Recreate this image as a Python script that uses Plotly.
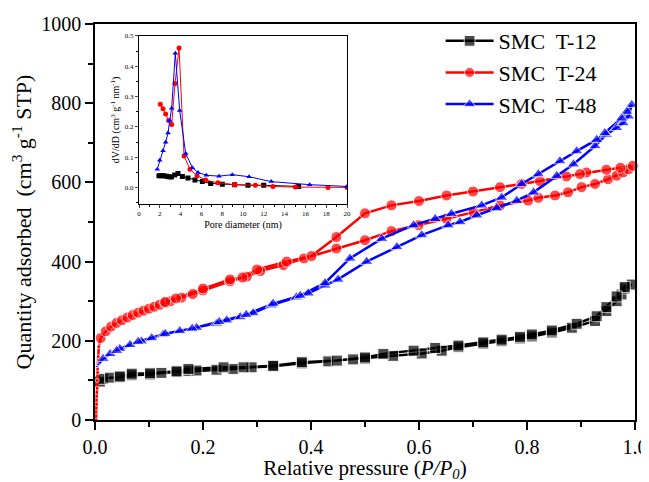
import plotly.graph_objects as go

# N2 isotherms: adsorption branch then desorption branch (one continuous path each)
t12_x = [0.004, 0.006, 0.009, 0.015, 0.028, 0.046, 0.068, 0.102, 0.123, 0.151, 0.173, 0.188,
         0.225, 0.256, 0.29, 0.33, 0.383, 0.432, 0.478, 0.5, 0.552, 0.605, 0.642, 0.673, 0.719,
         0.753, 0.787, 0.809, 0.846, 0.883, 0.926, 0.947, 0.966, 0.975, 0.981, 0.994,
         0.981, 0.966, 0.947, 0.929, 0.892, 0.846, 0.809, 0.787, 0.753, 0.719, 0.673, 0.63,
         0.59, 0.534, 0.5, 0.448, 0.383, 0.33, 0.275, 0.238, 0.173, 0.151, 0.102, 0.068, 0.046]
t12_y = [85, 92, 97, 104, 107, 108, 113, 115, 119, 121, 124, 125,
         127, 129, 133, 136, 143, 148, 153, 155, 162, 168, 175, 184, 193,
         199, 206, 211, 221, 233, 250, 275, 300, 317, 332, 342,
         336, 312, 285, 262, 243, 226, 216, 210, 203, 196, 188, 182,
         175, 167, 158, 150, 146, 137, 133, 133, 129, 123, 118, 117, 110]

t24_x = [0.002, 0.002, 0.003, 0.003, 0.004, 0.004, 0.005, 0.005, 0.006, 0.007,
         0.0105, 0.02, 0.03, 0.04, 0.05, 0.06, 0.07, 0.08, 0.09, 0.10, 0.11, 0.12, 0.13, 0.14,
         0.16, 0.181, 0.2, 0.25, 0.281, 0.306, 0.349, 0.387, 0.447, 0.5, 0.549, 0.599, 0.651,
         0.701, 0.75, 0.802, 0.821, 0.852, 0.876, 0.901, 0.926, 0.95, 0.966, 0.978, 0.988, 0.996,
         0.973, 0.947, 0.91, 0.898, 0.873, 0.824, 0.79, 0.75, 0.70, 0.651, 0.6, 0.549, 0.5,
         0.447, 0.401, 0.355, 0.3, 0.273, 0.25, 0.2, 0.15, 0.13]
t24_y = [0, 20, 40, 60, 80, 100, 120, 140, 160, 185,
         207, 224, 236, 245, 252, 259, 265, 271, 276, 281, 286, 291, 296, 300,
         309, 318, 327, 350, 362, 376, 391, 408, 433, 454, 477, 492, 508,
         525, 542, 554, 561, 567, 575, 588, 596, 608, 617, 625, 633, 642,
         637, 632, 625, 621, 615, 603, 596, 588, 577, 567, 553, 542, 522,
         462, 414, 400, 380, 360, 355, 332, 307, 298]

t48_x = [0.003, 0.006, 0.015, 0.028, 0.046, 0.065, 0.086, 0.105, 0.126, 0.157, 0.188, 0.225,
         0.244, 0.269, 0.293, 0.327, 0.373, 0.395, 0.426, 0.45, 0.503, 0.559, 0.605, 0.654,
         0.676, 0.707, 0.744, 0.781, 0.812, 0.855, 0.886, 0.926, 0.947, 0.966, 0.978, 0.988, 0.994,
         0.985, 0.975, 0.944, 0.929, 0.892, 0.861, 0.821, 0.79, 0.753, 0.716, 0.66, 0.63, 0.59,
         0.531, 0.472, 0.426, 0.38, 0.33, 0.28, 0.23, 0.18, 0.13, 0.08, 0.04]
t48_y = [135, 140, 155, 167, 180, 190, 199, 207, 216, 225, 233, 244,
         252, 260, 270, 290, 310, 320, 340, 355, 400, 437, 467, 492,
         500, 517, 535, 554, 575, 617, 646, 692, 721, 738, 750, 767, 796,
         779, 762, 725, 708, 679, 654, 621, 596, 562, 542, 521, 508, 492,
         458, 408, 346, 314, 294, 266, 248, 231, 218, 198, 175]

# pore size distribution (inset)
psd12_d = [1.92, 2.15, 2.37, 2.63, 2.88, 3.11, 3.43, 3.75, 4.17, 4.71, 5.38, 6.09, 6.89,
           8.01, 9.2, 10.48, 11.99, 15.35]
psd12_v = [0.039, 0.039, 0.039, 0.038, 0.036, 0.035, 0.042, 0.047, 0.037, 0.032, 0.025,
           0.020, 0.014, 0.011, 0.010, 0.008, 0.008, 0.004]
psd24_d = [2.05, 2.31, 2.56, 2.85, 3.14, 3.46, 3.85, 4.33, 4.90, 5.58, 6.41, 7.6, 9.2,
           11.19, 12.88, 15.03, 18.17, 20.0]
psd24_v = [0.275, 0.260, 0.243, 0.221, 0.208, 0.343, 0.460, 0.104, 0.061, 0.039, 0.025,
           0.016, 0.010, 0.008, 0.004, 0.002, 0.001, 0.001]
psd48_d = [1.76, 1.99, 2.31, 2.56, 2.79, 2.95, 3.14, 3.49, 3.91, 4.49, 5.13, 5.67, 6.47,
           7.69, 8.97, 10.58, 12.72, 16.41, 20.0]
psd48_v = [0.061, 0.090, 0.122, 0.150, 0.180, 0.221, 0.262, 0.443, 0.254, 0.113, 0.066,
           0.050, 0.041, 0.038, 0.043, 0.036, 0.020, 0.010, 0.004]

names = ["SMC  T-12", "SMC  T-24", "SMC  T-48"]
colors = ["#000000", "#ff0000", "#0000ff"]
symbols = ["square", "circle", "triangle-up"]

fig = go.Figure()
for xs, ys, nm, c, s in zip([t12_x, t24_x, t48_x], [t12_y, t24_y, t48_y], names, colors, symbols):
    # the very-low-pressure uptake column is drawn with small markers
    sizes = [4 if (x < 0.008 and y < 190) else 11 for x, y in zip(xs, ys)]
    fig.add_trace(go.Scatter(
        x=xs, y=ys, name=nm, mode="lines+markers",
        line=dict(color=c, width=2.5),
        marker=dict(color=c, symbol=s, size=sizes),
        cliponaxis=False
    ))

for xs, ys, c, s in zip([psd12_d, psd24_d, psd48_d], [psd12_v, psd24_v, psd48_v], colors, symbols):
    fig.add_trace(go.Scatter(
        x=xs, y=ys, mode="lines+markers", showlegend=False,
        xaxis="x2", yaxis="y2",
        line=dict(color=c, width=1),
        marker=dict(color=c, symbol=s, size=5)
    ))

font_family = "Liberation Serif"
axis_common = dict(showline=True, linecolor="black", linewidth=1.5, mirror=True,
                   ticks="outside", tickcolor="black", showgrid=False, zeroline=False,
                   automargin=False)

# the page body adds an 8px margin, so the figure is 16px smaller than the window
fig.update_layout(
    width=641, height=474,
    margin=dict(l=87, r=14, t=12, b=62),
    plot_bgcolor="white", paper_bgcolor="white",
    font=dict(family=font_family, color="black"),
    xaxis=dict(range=[0, 1], tickvals=[0, 0.2, 0.4, 0.6, 0.8, 1.0], tickformat=".1f",
               ticklen=8, tickwidth=1.5, tickfont=dict(size=20, family=font_family),
               minor=dict(ticks="outside", dtick=0.1, ticklen=5, tickcolor="black"),
               title=dict(text="Relative pressure (<i>P/P</i><sub><i>0</i></sub>)",
                          font=dict(size=21, family=font_family), standoff=10),
               **axis_common),
    yaxis=dict(range=[0, 1000], dtick=200, ticklen=8, tickwidth=1.5,
               tickfont=dict(size=20, family=font_family),
               minor=dict(ticks="outside", dtick=100, ticklen=5, tickcolor="black"),
               title=dict(text="Quantity adsorbed  (cm<sup>3</sup> g<sup>-1</sup> STP)",
                          font=dict(size=22, family=font_family), standoff=14),
               **axis_common),
    xaxis2=dict(domain=[0.0815, 0.4667], anchor="y2", range=[0, 20], dtick=2,
                ticklen=3, tickfont=dict(size=7, family=font_family),
                minor=dict(ticks="outside", dtick=1, ticklen=2, tickcolor="black"),
                title=dict(text="Pore diameter (nm)", font=dict(size=10, family=font_family),
                           standoff=3),
                showline=True, linecolor="black", linewidth=1, mirror=True,
                ticks="outside", showgrid=False, zeroline=False, automargin=False),
    yaxis2=dict(domain=[0.546, 0.97], anchor="x2", range=[-0.053, 0.5], dtick=0.1,
                tickformat=".1f", ticklen=3, tickfont=dict(size=7, family=font_family),
                minor=dict(ticks="outside", dtick=0.05, ticklen=2, tickcolor="black"),
                title=dict(text="dV/dD (cm<sup>3</sup> g<sup>-1</sup> nm<sup>-1</sup>)",
                           font=dict(size=10, family=font_family), standoff=3),
                showline=True, linecolor="black", linewidth=1, mirror=True,
                ticks="outside", showgrid=False, zeroline=False, automargin=False),
    legend=dict(x=0.64, y=1.01, xanchor="left", yanchor="top",
                bgcolor="rgba(0,0,0,0)", font=dict(size=22, family=font_family),
                itemwidth=48, tracegroupgap=0),
)

fig.write_html("out.html")
